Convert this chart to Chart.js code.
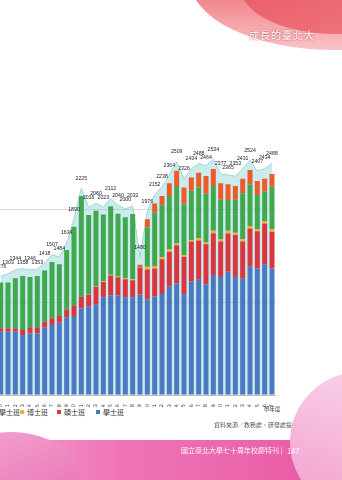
<!DOCTYPE html>
<html>
<head>
<meta charset="utf-8">
<script src="https://cdn.jsdelivr.net/npm/chart.js@4"></script>
<style>
  html, body { margin: 0; padding: 0; }
  body { width: 342px; height: 480px; overflow: hidden; position: relative; background: #fff;
         font-family: "Noto Sans CJK TC", "Noto Sans", sans-serif; }
  #wrap { position: absolute; left: -3px; top: 106px; width: 282px; height: 301px; }
  .deco { position: absolute; pointer-events: none; }
  #legend { position: absolute; top: 407px; left: 0; height: 10px; white-space: nowrap; font-size: 7px; color: #333; }
  #legend span.it { position: absolute; top: 0; }
  #legend i { display: inline-block; width: 4px; height: 4px; margin-right: 3px; vertical-align: 1px; }
</style>
</head>
<body>
<div class="deco" style="left:190px; top:-90px; width:290px; height:140px; border-radius:50%; background:linear-gradient(180deg,#e85a66,#f2888f 65%,#f9c4c6);"></div>
<div class="deco" style="left:240px; top:-62px; width:190px; height:96px; border-radius:50%; background:linear-gradient(160deg,#e5505b,#f07a83);"></div>
<div class="deco" style="left:249px; top:27px; font-size:10px; color:#fff; letter-spacing:1px; text-shadow:0 0 2px #b03040;">成長的臺北大</div>

<div id="wrap"><canvas id="studentChart"></canvas></div>

<div id="legend">
  <span class="it" style="left:-68px"><i style="background:#ec5b2a"></i>碩士在職專班</span>
  <span class="it" style="left:-22px"><i style="background:#41a84f"></i>進修學士班</span>
  <span class="it" style="left:20px"><i style="background:#f2b134"></i>博士班</span>
  <span class="it" style="left:57px"><i style="background:#d93640"></i>碩士班</span>
  <span class="it" style="left:96px"><i style="background:#4a78c2"></i>學士班</span>
</div>
<div class="deco" style="left:264px; top:405px; font-size:5.5px; color:#333;">學年度</div>
<div class="deco" style="left:214px; top:420px; font-size:6px; color:#555;">資料來源／教務處、研發處提供</div>

<div class="deco" style="left:0; top:440px; width:342px; height:40px; background:linear-gradient(90deg,#f49bcb,#ef74b7 35%,#e85aa3);"></div>
<div class="deco" style="left:-60px; top:432px; width:140px; height:90px; border-radius:50%; background:linear-gradient(160deg,#f3a7d2,#e96aae);"></div>
<div class="deco" style="left:290px; top:372px; width:140px; height:140px; border-radius:50%; background:linear-gradient(200deg,#fbd9ee,#f29ccc);"></div>
<div class="deco" style="left:181px; top:445px; font-size:7px; color:rgba(255,255,255,0.92);">國立臺北大學七十周年校慶特刊 |</div>
<div class="deco" style="left:287px; top:444.5px; font-size:7.5px; color:rgba(255,255,255,0.95);">147</div>

<script>
const years = ['70','71','72','73','74','75','76','77','78','79','80','81','82','83','84','85','86','87','88','89',
  '90','91','92','93','94','95','96','97','98','99','100','101','102','103','104','105','106','107'];

const totals = [1276,1303,1344,1358,1346,1353,1418,1507,1484,1634,1890,2225,2016,2060,2023,2112,2040,2000,2032,1480,
  1976,2152,2238,2364,2509,2326,2434,2488,2464,2534,2377,2365,2353,2431,2524,2407,2434,2488];

const bachelor = [680,680,680,645,660,660,728,753,777,835,850,930,950,970,1050,1070,1070,1050,1050,1080,
  1030,1060,1086,1165,1200,1086,1220,1240,1190,1290,1270,1326,1270,1250,1380,1360,1400,1360];

const master = [37,37,37,55,68,68,62,72,73,85,115,130,130,195,165,215,195,195,185,290,
  320,300,374,375,410,401,430,420,430,450,380,410,450,400,410,400,445,395];

const doctor = [0,0,0,0,0,0,0,0,0,0,0,0,5,5,8,8,10,10,10,5,
  30,27,20,27,20,18,17,25,20,27,27,31,25,24,27,25,25,25];

const evening = [493,493,538,580,542,552,550,605,555,640,845,1080,850,810,717,737,675,655,700,0,
  420,573,560,573,617,545,530,545,525,480,423,330,355,496,448,365,316,460];

const inService = [0,0,0,0,0,0,0,0,0,0,0,0,0,0,0,0,0,0,0,25,
  90,100,100,136,163,180,143,160,190,183,176,168,147,156,155,150,140,136];

// total value printed above each point of the area,
// nudged up or down when it would sit on top of its neighbour
const totalLabels = {
  id: 'totalLabels',
  afterDatasetsDraw(chart) {
    const ctx = chart.ctx;
    const meta = chart.getDatasetMeta(5);
    ctx.save();
    ctx.font = '5.2px "Liberation Sans", Arial, sans-serif';
    ctx.fillStyle = '#222';
    ctx.textAlign = 'center';
    ctx.textBaseline = 'middle';
    let prevY = null;
    meta.data.forEach((pt, i) => {
      let y = pt.y - 10;
      if (prevY !== null && Math.abs(y - prevY) < 4) {
        const up = prevY - 4, down = prevY + 4;
        y = Math.abs(up - y) < Math.abs(down - y) ? up : down;
      }
      ctx.fillText(String(totals[i]), pt.x, y);
      prevY = y;
    });
    ctx.restore();
  }
};

const barCommon = { stack: 'bars', barPercentage: 0.68, categoryPercentage: 1.0, borderWidth: 0, order: 1 };

new Chart(document.getElementById('studentChart'), {
  type: 'bar',
  data: {
    labels: years,
    datasets: [
      Object.assign({ label: '學士班', data: bachelor, backgroundColor: '#4a78c2' }, barCommon),
      Object.assign({ label: '碩士班', data: master, backgroundColor: '#d93640' }, barCommon),
      Object.assign({ label: '博士班', data: doctor, backgroundColor: '#f2b134' }, barCommon),
      Object.assign({ label: '進修學士班', data: evening, backgroundColor: '#41a84f' }, barCommon),
      Object.assign({ label: '碩士在職專班', data: inService, backgroundColor: '#ec5b2a' }, barCommon),
      {
        type: 'line',
        label: '合計',
        data: totals,
        stack: 'area',
        fill: 'origin',
        tension: 0,
        pointRadius: 0,
        borderWidth: 1,
        borderColor: '#9fd5d6',
        backgroundColor: 'rgba(140, 210, 215, 0.45)',
        order: 2
      }
    ]
  },
  options: {
    animation: false,
    responsive: true,
    maintainAspectRatio: false,
    layout: { padding: { top: 10, left: 0, right: 0, bottom: 0 } },
    plugins: {
      legend: { display: false },
      tooltip: { enabled: false }
    },
    scales: {
      x: {
        stacked: true,
        offset: true,
        grid: { display: false },
        border: { color: '#bdbdbd' },
        ticks: {
          font: { size: 5, family: 'DejaVu Sans' },
          color: '#333',
          minRotation: 90,
          maxRotation: 90,
          autoSkip: false,
          padding: 1
        },
        afterFit(scale) { scale.height = 12; }
      },
      y: {
        stacked: true,
        min: 0,
        max: 3000,
        ticks: { display: false, stepSize: 1000 },
        border: { display: false },
        grid: {
          drawTicks: false,
          color: (c) => (c.tick && (c.tick.value === 1000 || c.tick.value === 2000)) ? '#d8d8d8' : 'rgba(0,0,0,0)'
        },
        afterFit(scale) { scale.width = 0; }
      }
    }
  },
  plugins: [totalLabels]
});
</script>
</body>
</html>
